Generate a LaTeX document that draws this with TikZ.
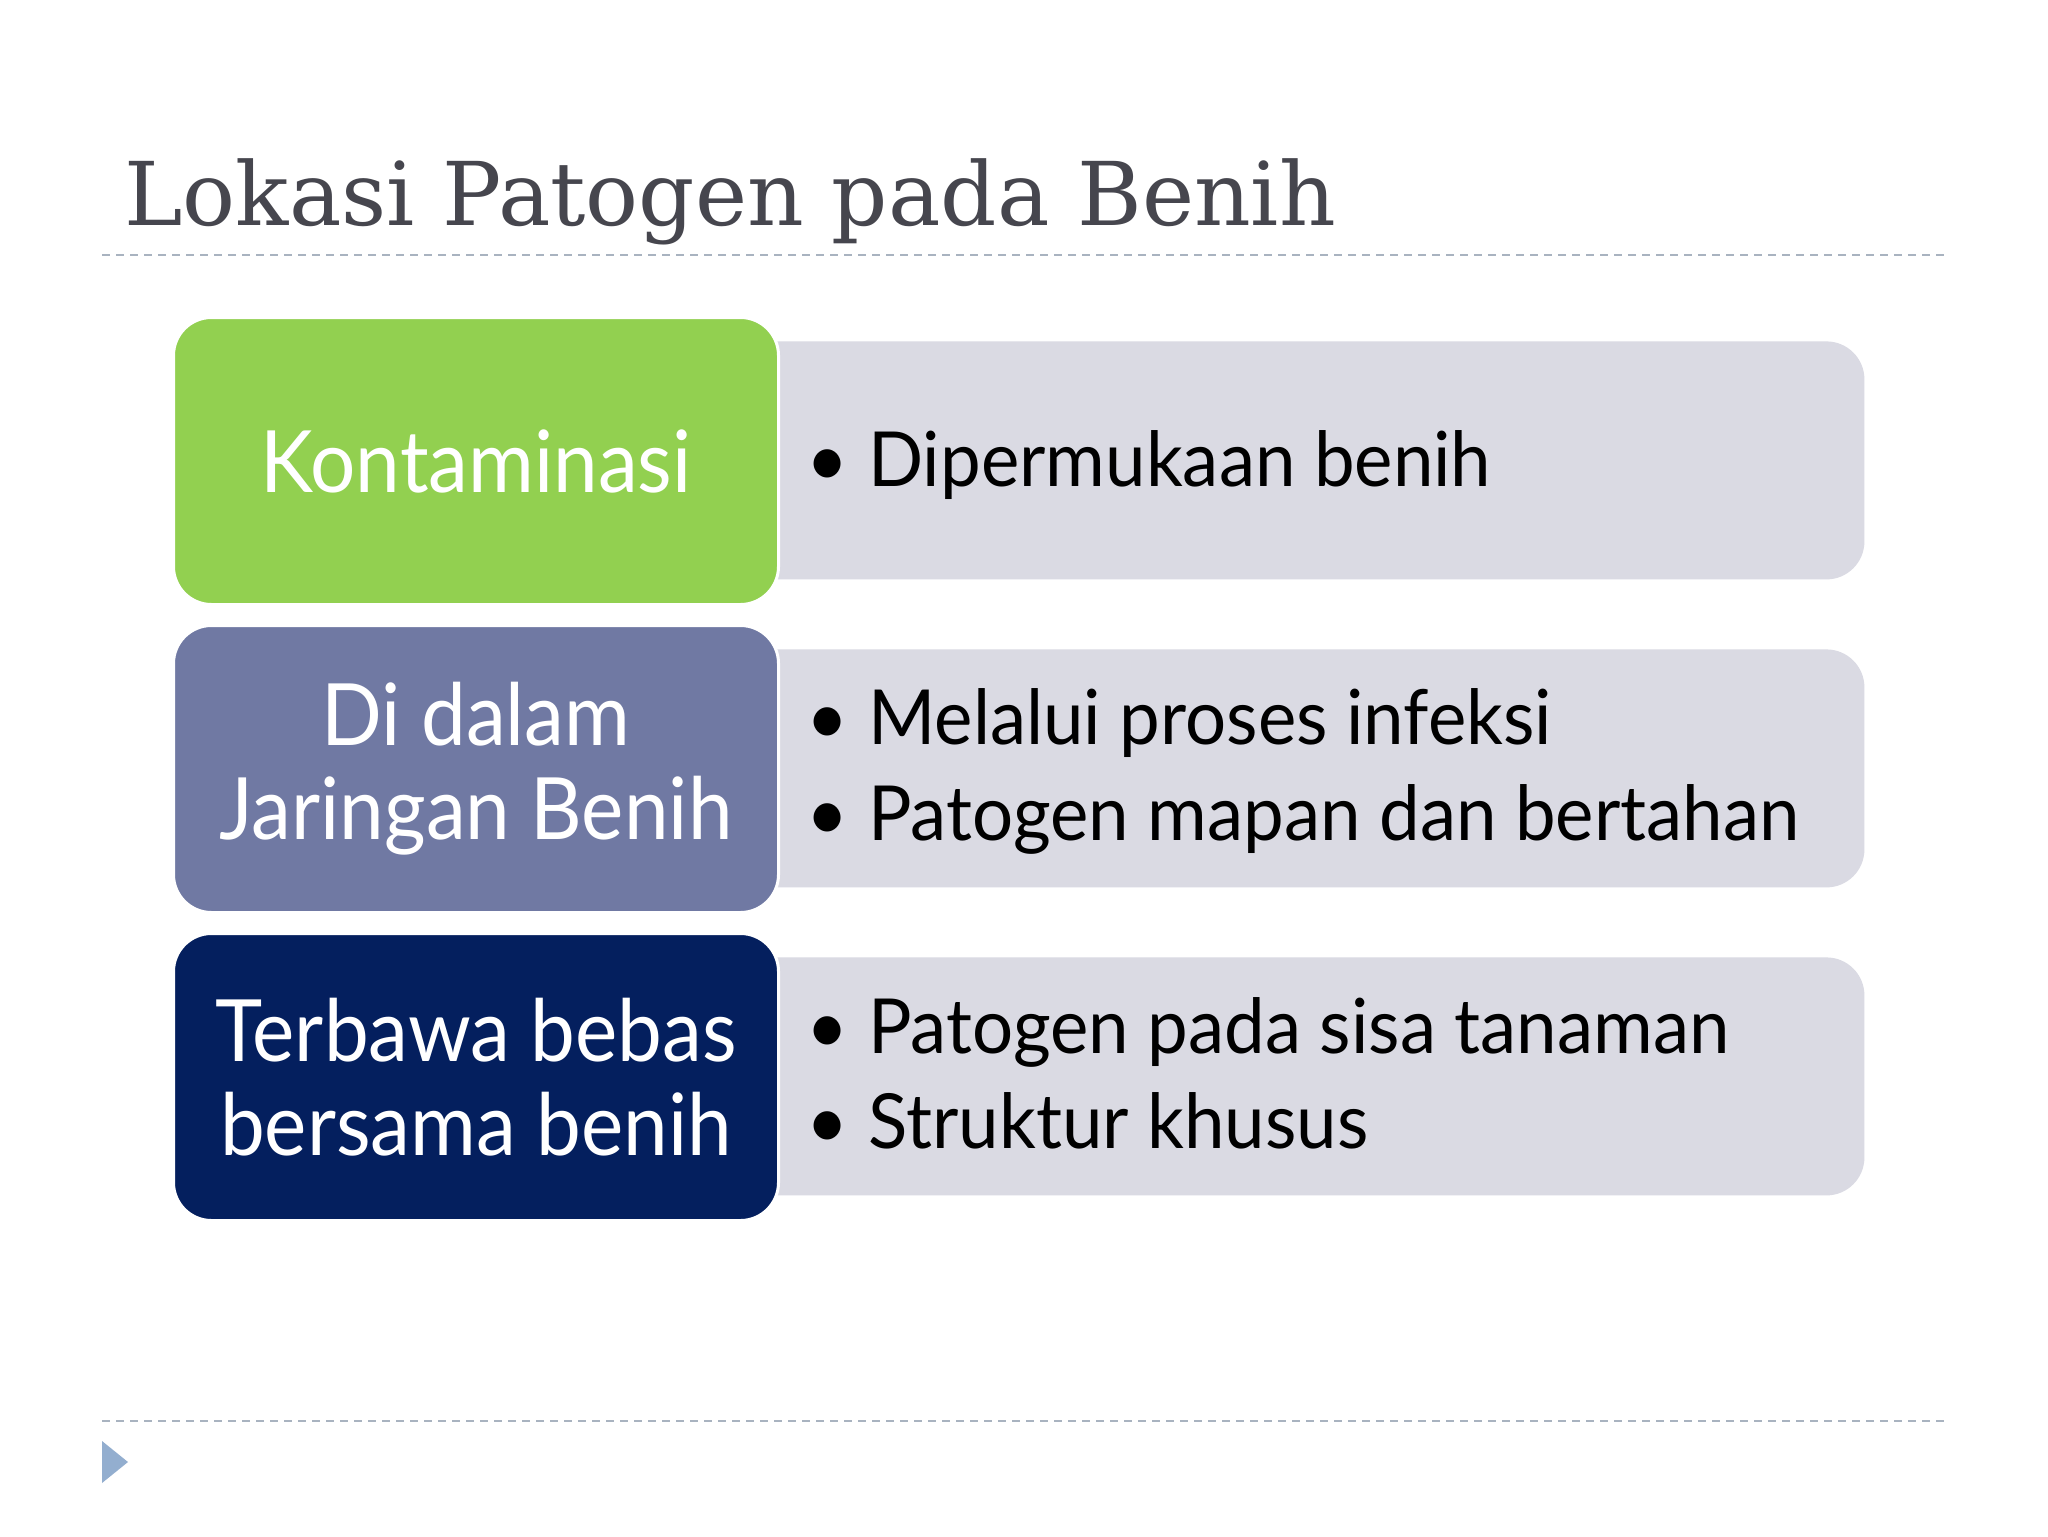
\documentclass[tikz,border=0pt]{standalone}
\usepackage{fontspec}
\setmainfont{Lato}
\newfontfamily\titlefont{DejaVu Serif}
\newfontfamily\catfont[FakeStretch=0.93]{Lato}
\newfontfamily\itemfont[FakeStretch=0.955]{Lato}
\usetikzlibrary{positioning}

\definecolor{kontamgreen}{HTML}{92D050}
\definecolor{jaringanblue}{HTML}{7079A3}
\definecolor{terbawanavy}{HTML}{041F5E}
\definecolor{descgray}{HTML}{DADAE3}
\definecolor{titlegray}{HTML}{46464E}
\definecolor{rulegray}{HTML}{A9B3C0}
\definecolor{markblue}{HTML}{93AECF}

\begin{document}
\begin{tikzpicture}[x=0.5pt,y=-0.5pt]

\def \rowtop {316}
\def \rowstep {308}

\tikzset{catbox/.style = {rounded corners=19pt, draw=white, line width=1.5pt, text=white, align=center, anchor=north west, inner sep=0pt, minimum width=302.5pt, minimum height=143.5pt, font=\catfont\fontsize{43}{47}\selectfont}}
\tikzset{descbox/.style = {rounded corners=19pt, fill=descgray, anchor=north west, inner sep=0pt, minimum width=582pt, minimum height=119pt}}
\tikzset{item/.style = {anchor=base west, inner sep=0pt, font=\itemfont\fontsize{38}{40}\selectfont}}
\tikzset{rule/.style = {rulegray, line width=1pt, dash pattern=on 4pt off 3pt}}

\useasboundingbox[fill=white] (0,0) rectangle (2048,1536);

% title and rules
\node[anchor=base west, inner sep=0pt, text=titlegray, font=\titlefont\fontsize{44}{48}\selectfont] (title) at (124,225) {Lokasi Patogen pada Benih};

\coordinate (topL) at (102,255);
\coordinate (topR) at (1946,255);
\coordinate (botL) at (102,1421);
\coordinate (botR) at (1946,1421);
\draw[rule] (topL) -- (topR);
\draw[rule] (botL) -- (botR);

\fill[markblue] (102,1441) -- (128,1462) -- (102,1483) -- cycle;

% rows
\foreach \i/\col/\name/\lbl in {1/kontamgreen/kontam/{Kontaminasi}, 2/jaringanblue/jaringan/{Di dalam\\Jaringan Benih}, 3/terbawanavy/terbawa/{Terbawa bebas\\bersama benih}}
{
	\pgfmathsetmacro{\ytop}{\rowtop + (\i - 1) * \rowstep}
	\node[descbox] (\name desc) at (700, {\ytop + 25}) {};
	\node[catbox, fill=\col] (\name) at (172, \ytop) {\lbl};
}

% bullet items
\node[item] (item1) at (806,486) {\makebox[31pt][l]{\textbullet}Dipermukaan benih};
\node[item] (item2a) at (806,744) {\makebox[31pt][l]{\textbullet}Melalui proses infeksi};
\node[item] (item2b) at (806,840) {\makebox[31pt][l]{\textbullet}Patogen mapan dan bertahan};
\node[item] (item3a) at (806,1053) {\makebox[31pt][l]{\textbullet}Patogen pada sisa tanaman};
\node[item] (item3b) at (806,1148) {\makebox[31pt][l]{\textbullet}Struktur khusus};

\end{tikzpicture}
\end{document}
